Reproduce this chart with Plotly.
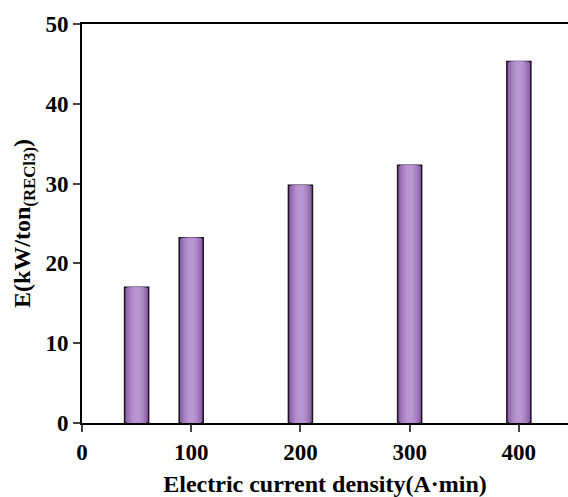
import plotly.graph_objects as go

# Energy consumption per ton of RECl3 at each electric current density
current_density = [50, 100, 200, 300, 400]
energy = [17.0, 23.2, 29.8, 32.3, 45.3]

x_ticks = [0, 100, 200, 300, 400]
y_ticks = [0, 10, 20, 30, 40, 50]

bar_width = 22
# Layers from the outer bar inwards: a cylinder-like shading, dark edges to light centre
shade_layers = [
    (1.00, "#8b5fa6"),
    (0.82, "#9a6fb6"),
    (0.64, "#a680c2"),
    (0.46, "#b08ccb"),
    (0.28, "#b796d2"),
]

fig = go.Figure()
for i, (frac, color) in enumerate(shade_layers):
    fig.add_trace(go.Bar(
        x=current_density,
        y=energy,
        width=bar_width * frac,
        marker=dict(
            color=color,
            line=dict(color="#1a1020", width=1.5) if i == 0 else dict(width=0),
        ),
        showlegend=False,
        hoverinfo="skip" if i else None,
    ))

font_family = "Liberation Serif"

fig.update_layout(
    barmode="overlay",
    width=568,
    height=497,
    margin=dict(l=82, r=0, t=24, b=74),
    plot_bgcolor="white",
    paper_bgcolor="white",
    font=dict(family=font_family, color="black", size=22),
    xaxis=dict(
        range=[0, 445],
        tickvals=x_ticks,
        ticks="outside",
        ticklen=7,
        tickwidth=2,
        showline=True,
        linewidth=2,
        linecolor="black",
        mirror=True,
        showgrid=False,
        zeroline=False,
        tickfont=dict(family=font_family, size=23, color="black", weight="bold"),
        title=dict(
            text="<b>Electric current density(A·min)</b>",
            font=dict(family=font_family, size=24, color="black"),
            standoff=14,
        ),
    ),
    yaxis=dict(
        range=[0, 50],
        tickvals=y_ticks,
        ticks="outside",
        ticklen=7,
        tickwidth=2,
        showline=True,
        linewidth=2,
        linecolor="black",
        showgrid=False,
        zeroline=False,
        tickfont=dict(family=font_family, size=23, color="black", weight="bold"),
        title=dict(
            text="<b>E(kW/ton<sub>(RECl3)</sub>)</b>",
            font=dict(family=font_family, size=24, color="black"),
            standoff=8,
        ),
    ),
)

fig.write_html("out.html")
